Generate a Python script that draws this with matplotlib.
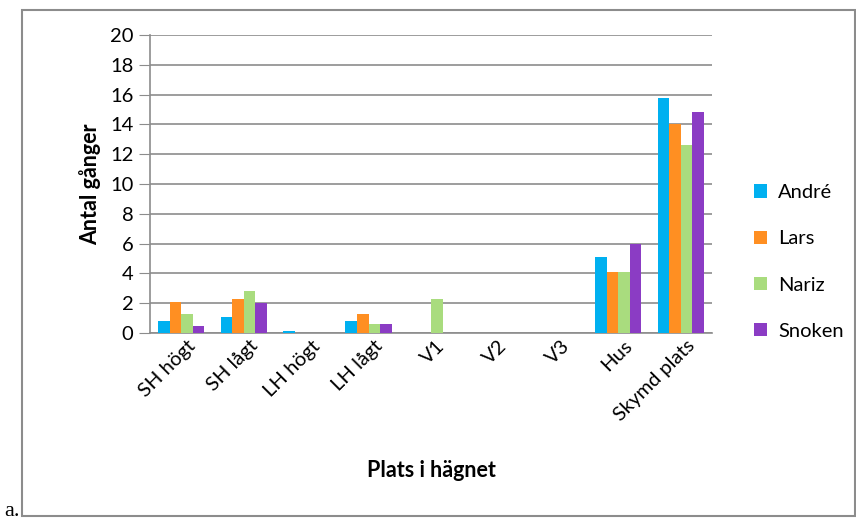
import numpy as np
import matplotlib
matplotlib.use("Agg")
import matplotlib.pyplot as plt
import matplotlib.transforms as mtransforms
from matplotlib.patches import Rectangle

plt.rcParams['font.family'] = ['Lato', 'DejaVu Sans']

# antal gånger per plats och individ
platser = ["SH högt", "SH lågt", "LH högt", "LH lågt", "V1", "V2", "V3", "Hus", "Skymd plats"]
andre = [0.8, 1.1, 0.15, 0.8, 0, 0, 0, 5.1, 15.8]
lars = [2.1, 2.3, 0, 1.3, 0, 0, 0, 4.1, 14.0]
nariz = [1.3, 2.8, 0, 0.6, 2.3, 0, 0, 4.1, 12.6]
snoken = [0.5, 2.0, 0, 0.6, 0, 0, 0, 6.0, 14.8]

namn = ["André", "Lars", "Nariz", "Snoken"]
serier = [andre, lars, nariz, snoken]
farger = ["#00B0F0", "#FF8F22", "#A9DC7E", "#8B3CC4"]

fig = plt.figure(figsize=(8.56, 5.2), dpi=100)
ax = fig.add_axes([150 / 856, 1 - 333 / 520, 562 / 856, 298 / 520])

x = np.arange(len(platser))
bw = 0.185
for i, (s, c, n) in enumerate(zip(serier, farger, namn)):
    ax.bar(x + (i - 1.5) * bw, s, bw, color=c, label=n, zorder=3)

ax.set_xlim(-0.5, len(platser) - 0.5)
ax.set_ylim(0, 20)
ax.set_yticks(range(0, 21, 2))
ax.yaxis.grid(True, color="#8c8c8c", linewidth=1.2, zorder=0)
for side in ["top", "right"]:
    ax.spines[side].set_visible(False)
for side in ["left", "bottom"]:
    ax.spines[side].set_color("#8c8c8c")
    ax.spines[side].set_linewidth(1.2)
ax.tick_params(axis="y", length=8, color="#8c8c8c", labelsize=14.5, pad=4)
ax.tick_params(axis="x", length=0, labelsize=14.5, pad=3)
ax.set_xticks(x)
ax.set_xticklabels(platser, rotation=45, ha="right", va="top", rotation_mode="anchor")
# flytta etiketterna lite åt höger
skift = mtransforms.ScaledTranslation(5 / 100, 0, fig.dpi_scale_trans)
for lbl in ax.get_xticklabels():
    lbl.set_transform(lbl.get_transform() + skift)

ax.set_ylabel("Antal gånger", fontsize=15.5, fontweight="bold", labelpad=6)
ax.set_xlabel("Plats i hägnet", fontsize=15.5, fontweight="bold", labelpad=26)

fig.legend(loc="center left", bbox_to_anchor=(736 / 856, 1 - 262 / 520),
           frameon=False, fontsize=14.5, handlelength=0.65, handleheight=0.65,
           handletextpad=0.55, labelspacing=1.45)

# ram runt diagrammet
fig.patches.append(Rectangle((22 / 856, 4 / 520), 833 / 856, 506 / 520,
                             transform=fig.transFigure, fill=False,
                             edgecolor="#8c8c8c", linewidth=1.5))
fig.text(4 / 856, 4 / 520, "a.", fontsize=16, family="Liberation Serif")

fig.savefig("out.png", dpi=100)
